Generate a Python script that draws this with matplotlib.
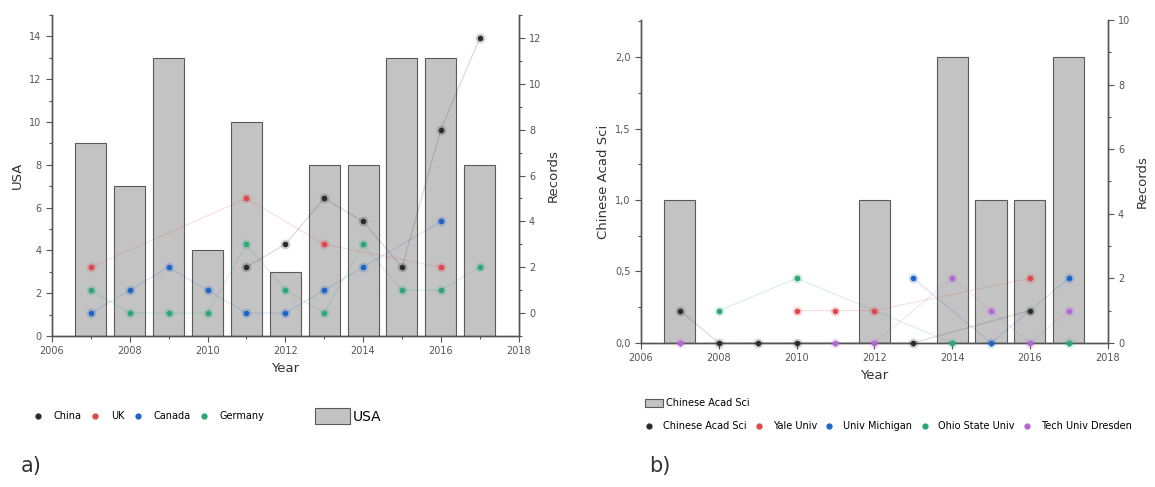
import numpy as np
import matplotlib
matplotlib.use("Agg")
import matplotlib.pyplot as plt
from matplotlib.patches import Patch
from matplotlib.lines import Line2D
from matplotlib.ticker import MultipleLocator, FuncFormatter
from matplotlib.colors import to_rgba

nan = np.nan
years = list(range(2007, 2018))

# panel a: countries
usa = [9, 7, 13, 4, 10, 3, 8, 8, 13, 13, 8]
china = [nan, nan, nan, nan, 2, 3, 5, 4, 2, 8, 12]
uk = [2, nan, nan, nan, 5, nan, 3, nan, nan, 2, nan]
canada = [0, 1, 2, 1, 0, 0, 1, 2, nan, 4, nan]
germany = [1, 0, 0, 0, 3, 1, 0, 3, 1, 1, 2]
a_names = ["China", "UK", "Canada", "Germany"]

# panel b: institutions
cas_bars = [1, 0, 0, 0, 0, 1, 0, 2, 1, 1, 2]
cas = [1, 0, 0, 0, nan, nan, 0, nan, nan, 1, nan]
yale = [nan, nan, nan, 1, 1, 1, nan, nan, nan, 2, nan]
michigan = [nan, nan, nan, nan, nan, nan, 2, nan, 0, nan, 2]
ohio = [nan, 1, nan, 2, nan, nan, nan, 0, nan, nan, 0]
dresden = [0, nan, nan, nan, 0, 0, nan, 2, 1, 0, 1]
b_names = ["Chinese Acad Sci", "Yale Univ", "Univ Michigan", "Ohio State Univ", "Tech Univ Dresden"]

colors = ["#2b2b2b", "#e0474c", "#1e64c8", "#2aa774", "#b266d6"]
bar_face = "#c3c3c3"
bar_edge = "#5a5a5a"
tick_col = "#555555"

fig = plt.figure(figsize=(11.55, 4.87), dpi=100)


def style_axes(ax, ax2):
    for a in (ax, ax2):
        a.spines["top"].set_visible(False)
        for s in a.spines.values():
            s.set_color("#555555")
            s.set_linewidth(1.0)
        a.tick_params(labelsize=7, colors=tick_col, length=4, width=0.8)
        a.tick_params(which="minor", length=2.5, width=0.8, colors=tick_col)
    ax.set_xlim(2006, 2018)
    ax.xaxis.set_major_locator(MultipleLocator(2))
    ax.xaxis.set_minor_locator(MultipleLocator(1))
    ax.set_xlabel("Year", fontsize=9.5, color="#333333", labelpad=4)
    ax2.set_ylabel("Records", fontsize=9.5, color="#333333", labelpad=4)


def plot_series(ax2, series):
    for vals, c in series:
        y = np.array(vals, dtype=float)
        x = np.array(years)
        m = ~np.isnan(y)
        ax2.plot(x[m], y[m], color=c, lw=0.8, alpha=0.18, zorder=3)
        ax2.plot(x[m], y[m], "o", ms=4, color=c, mec=to_rgba(c, 0.22), mew=3,
                 zorder=4, clip_on=False)


# ---- panel a
ax = fig.add_axes([0.045, 0.31, 0.404, 0.659])
ax.bar(years, usa, width=0.8, color=bar_face, edgecolor=bar_edge, linewidth=0.8, zorder=2)
ax.set_ylim(0, 15)
ax.yaxis.set_major_locator(MultipleLocator(2))
ax.yaxis.set_minor_locator(MultipleLocator(1))
ax.set_ylabel("USA", fontsize=9.5, color="#333333", labelpad=4)
ax2 = ax.twinx()
ax2.set_ylim(-1, 13)
ax2.yaxis.set_major_locator(MultipleLocator(2))
ax2.yaxis.set_minor_locator(MultipleLocator(1))
style_axes(ax, ax2)
plot_series(ax2, list(zip([china, uk, canada, germany], colors[:4])))

h_a = [Line2D([], [], ls="", marker="o", ms=3.5, color=c) for c in colors[:4]]
fig.legend(h_a, a_names, loc="center left", bbox_to_anchor=(0.022, 1 - 416 / 487),
           ncol=4, frameon=False, fontsize=7, handlelength=0.8, handletextpad=1.2,
           columnspacing=1.0)
fig.legend([Patch(facecolor=bar_face, edgecolor=bar_edge, linewidth=0.8)], ["USA"],
           loc="center left", bbox_to_anchor=(0.262, 1 - 416 / 487), frameon=False,
           fontsize=10, handlelength=2.5, handleheight=1.4, handletextpad=0.2)
fig.text(0.018, 1 - 466 / 487, "a)", fontsize=15, color="#333333", va="center")

# ---- panel b
bx = fig.add_axes([0.555, 0.296, 0.404, 0.663])
bx.bar(years, cas_bars, width=0.8, color=bar_face, edgecolor=bar_edge, linewidth=0.8, zorder=2)
bx.set_ylim(0, 2.26)
bx.yaxis.set_major_locator(MultipleLocator(0.5))
bx.yaxis.set_minor_locator(MultipleLocator(0.25))
bx.yaxis.set_major_formatter(FuncFormatter(lambda v, p: f"{v:.1f}".replace(".", ",")))
bx.set_ylabel("Chinese Acad Sci", fontsize=9.5, color="#333333", labelpad=4)
bx2 = bx.twinx()
bx2.set_ylim(0, 10)
bx2.yaxis.set_major_locator(MultipleLocator(2))
bx2.yaxis.set_minor_locator(MultipleLocator(1))
style_axes(bx, bx2)
plot_series(bx2, list(zip([cas, yale, michigan, ohio, dresden], colors)))

fig.legend([Patch(facecolor=bar_face, edgecolor=bar_edge, linewidth=0.8)], ["Chinese Acad Sci"],
           loc="center left", bbox_to_anchor=(0.551, 1 - 403 / 487), frameon=False,
           fontsize=7, handlelength=1.8, handleheight=0.9, handletextpad=0.3)
h_b = [Line2D([], [], ls="", marker="o", ms=3.5, color=c) for c in colors]
fig.legend(h_b, b_names, loc="center left", bbox_to_anchor=(0.551, 1 - 426 / 487),
           ncol=5, frameon=False, fontsize=7, handlelength=0.8, handletextpad=1.0,
           columnspacing=0.9)
fig.text(0.562, 1 - 466 / 487, "b)", fontsize=15, color="#333333", va="center")

fig.savefig("out.png", dpi=100)
